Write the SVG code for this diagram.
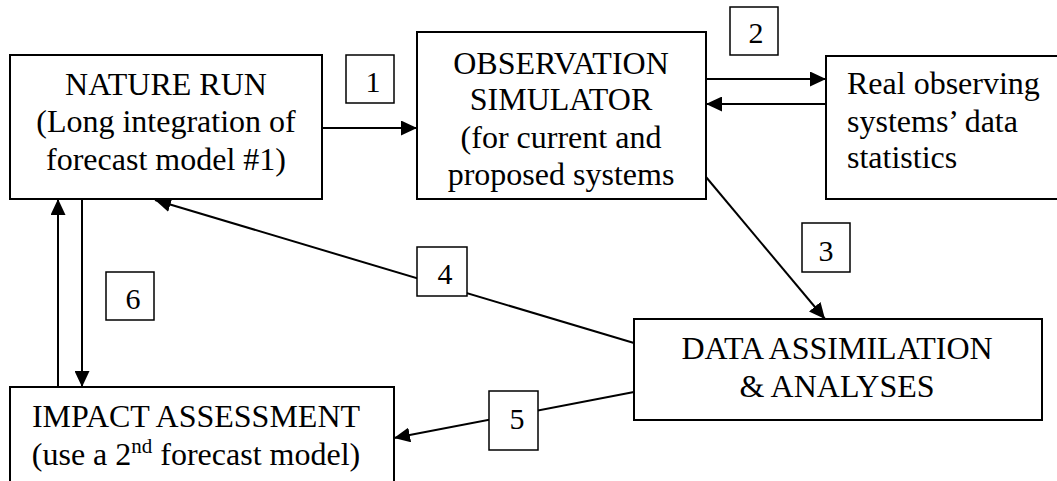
<svg xmlns="http://www.w3.org/2000/svg" width="1057" height="481" viewBox="0 0 1057 481">
  <style>
    .box { fill: #ffffff; stroke: #000000; stroke-width: 2; }
    .tag { fill: #ffffff; stroke: #000000; stroke-width: 1.5; }
    .txt { font-family: "Liberation Serif", "Tinos", "Noto Serif", "DejaVu Serif", serif; font-size: 32px; fill: #000000; }
    .num { font-family: "Liberation Serif", "Tinos", "Noto Serif", "DejaVu Serif", serif; font-size: 30px; fill: #000000; text-anchor: middle; }
    .mid { text-anchor: middle; }
    .sup { font-size: 21px; }
    .link { fill: none; stroke: #000000; stroke-width: 2; marker-end: url(#arrow); }
  </style>
  <defs>
    <marker id="arrow" markerUnits="userSpaceOnUse" markerWidth="16" markerHeight="15" refX="16" refY="7.5" orient="auto">
      <path d="M0,0 L16,7.5 L0,15 Z" fill="#000000"/>
    </marker>
  </defs>
  <rect width="1057" height="481" fill="#ffffff"/>

  <!-- flow lines between the stages -->
  <g id="connectors">
    <line class="link" x1="322" y1="128" x2="417" y2="128"/>
    <line class="link" x1="706" y1="79" x2="826" y2="79"/>
    <line class="link" x1="826" y1="104" x2="706" y2="104"/>
    <line class="link" x1="706" y1="177" x2="825" y2="319"/>
    <line class="link" x1="634" y1="343" x2="155" y2="200"/>
    <line class="link" x1="634" y1="392" x2="394" y2="438"/>
    <line class="link" x1="58" y1="387" x2="58" y2="199"/>
    <line class="link" x1="82" y1="199" x2="82" y2="387"/>
  </g>

  <g id="nature-run">
    <rect class="box" x="10" y="55" width="312" height="144"/>
    <text class="txt mid" x="166" y="95">NATURE RUN</text>
    <text class="txt mid" x="166" y="132">(Long integration of</text>
    <text class="txt mid" x="166" y="170">forecast model #1)</text>
  </g>

  <g id="observation-simulator">
    <rect class="box" x="417" y="32" width="289" height="167"/>
    <text class="txt mid" x="561" y="74">OBSERVATION</text>
    <text class="txt mid" x="561" y="110">SIMULATOR</text>
    <text class="txt mid" x="561" y="148">(for current and</text>
    <text class="txt mid" x="561" y="185">proposed systems</text>
  </g>

  <g id="real-observing">
    <rect class="box" x="826" y="56" width="300" height="143"/>
    <text class="txt" x="847" y="94">Real observing</text>
    <text class="txt" x="847" y="132">systems’ data</text>
    <text class="txt" x="847" y="168">statistics</text>
  </g>

  <g id="data-assimilation">
    <rect class="box" x="634" y="319" width="408" height="101"/>
    <text class="txt mid" x="837" y="359">DATA ASSIMILATION</text>
    <text class="txt mid" x="837" y="397">&amp; ANALYSES</text>
  </g>

  <g id="impact-assessment">
    <rect class="box" x="10" y="387" width="384" height="200"/>
    <text class="txt mid" x="196" y="427">IMPACT ASSESSMENT</text>
    <text class="txt mid" x="196" y="465">(use a 2<tspan class="sup" dy="-12">nd</tspan><tspan dy="12"> forecast model)</tspan></text>
  </g>

  <!-- numbered step tags -->
  <g id="step-1">
    <rect class="tag" x="346" y="55" width="48" height="48"/>
    <text class="num" x="373" y="92">1</text>
  </g>
  <g id="step-2">
    <rect class="tag" x="730" y="7" width="48" height="48"/>
    <text class="num" x="756" y="43">2</text>
  </g>
  <g id="step-3">
    <rect class="tag" x="802" y="223" width="48" height="49"/>
    <text class="num" x="826" y="261">3</text>
  </g>
  <g id="step-4">
    <rect class="tag" x="417" y="247" width="50" height="49"/>
    <text class="num" x="445" y="284">4</text>
  </g>
  <g id="step-5">
    <rect class="tag" x="489" y="391" width="49" height="59"/>
    <text class="num" x="517" y="429">5</text>
  </g>
  <g id="step-6">
    <rect class="tag" x="106" y="272" width="48" height="48"/>
    <text class="num" x="133" y="309">6</text>
  </g>
</svg>
